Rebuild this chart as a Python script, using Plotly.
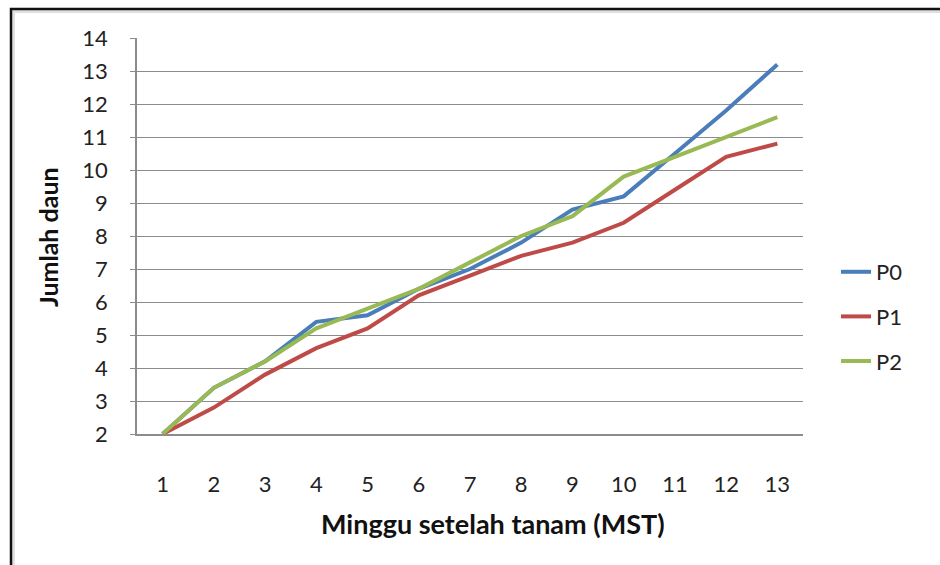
import plotly.graph_objects as go

# Weeks after planting (MST) and mean leaf count per treatment
minggu = list(range(1, 14))
p0 = [2.0, 3.4, 4.2, 5.4, 5.6, 6.4, 7.0, 7.8, 8.8, 9.2, 10.5, 11.8, 13.2]
p1 = [2.0, 2.8, 3.8, 4.6, 5.2, 6.2, 6.8, 7.4, 7.8, 8.4, 9.4, 10.4, 10.8]
p2 = [2.0, 3.4, 4.2, 5.2, 5.8, 6.4, 7.2, 8.0, 8.6, 9.8, 10.4, 11.0, 11.6]
y_ticks = list(range(2, 15))

series = [("P0", p0, "#4A7EBB"), ("P1", p1, "#BE4B48"), ("P2", p2, "#98B954")]

W, H = 940, 565
ML, MR, MT, MB = 137, 137, 38, 131
FONT = "Lato"

fig = go.Figure()
for name, vals, color in series:
    fig.add_trace(go.Scatter(
        x=minggu, y=vals, name=name, mode="lines",
        legendgroup=name,
        line=dict(color=color, width=4),
    ))

pw = W - ML - MR
ph = H - MT - MB


def px_x(v):
    return (v - ML) / pw


def px_y(v):
    return (H - MB - v) / ph


fig.update_layout(
    width=W, height=H,
    margin=dict(l=ML, r=MR, t=MT, b=MB),
    paper_bgcolor="white", plot_bgcolor="white",
    font=dict(family=FONT, size=22, color="#222"),
    showlegend=True,
    legend=dict(
        x=px_x(836), y=px_y(251), xanchor="left", yanchor="top",
        tracegroupgap=13, font=dict(size=22, color="#222"),
        bgcolor="rgba(0,0,0,0)",
    ),
    xaxis=dict(
        range=[0.5, 13.5], tickvals=minggu, ticktext=[str(m) for m in minggu],
        showgrid=False, zeroline=False,
        showline=True, linecolor="#8c8c8c", linewidth=1.5,
        ticks="", ticklabelstandoff=30,
        tickfont=dict(size=22),
    ),
    yaxis=dict(
        range=[2, 14], tickvals=y_ticks, ticktext=[str(t) for t in y_ticks],
        showgrid=True, gridcolor="#8c8c8c", gridwidth=1.2,
        zeroline=False, showline=True, linecolor="#8c8c8c", linewidth=1.5,
        ticks="outside", ticklen=5, tickcolor="#8c8c8c",
        ticklabelstandoff=18, tickfont=dict(size=22),
    ),
    annotations=[
        dict(text="<b>Minggu setelah tanam (MST)</b>", xref="paper", yref="paper",
             x=px_x(493), y=px_y(523), xanchor="center", yanchor="middle",
             showarrow=False, font=dict(size=27, color="#111")),
        dict(text="<b>Jumlah daun</b>", xref="paper", yref="paper",
             x=px_x(48), y=px_y(237), xanchor="center", yanchor="middle",
             textangle=-90, showarrow=False, font=dict(size=25, color="#111")),
    ],
    shapes=[
        # chart frame with soft shadow, running off the right and bottom edges
        dict(type="rect", xref="paper", yref="paper",
             x0=px_x(13), y0=px_y(575), x1=px_x(960), y1=px_y(11),
             line=dict(color="rgba(0,0,0,0.12)", width=4), layer="below"),
        dict(type="rect", xref="paper", yref="paper",
             x0=px_x(11), y0=px_y(575), x1=px_x(960), y1=px_y(9),
             line=dict(color="#111", width=2.5), layer="below"),
    ],
)

fig.write_html("out.html")
